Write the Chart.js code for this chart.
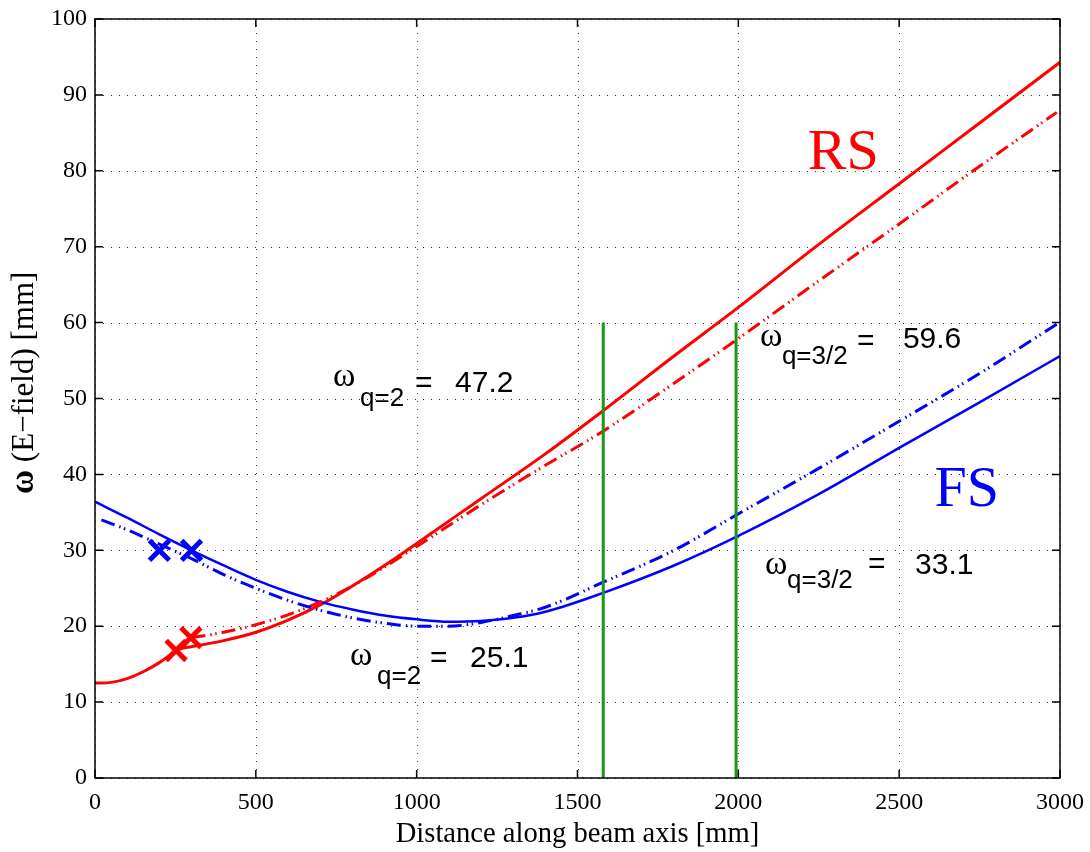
<!DOCTYPE html>
<html><head><meta charset="utf-8">
<script src="https://cdn.jsdelivr.net/npm/chart.js@4.4.1/dist/chart.umd.min.js"></script>
<style>html,body{margin:0;padding:0;background:#fff;overflow:hidden}</style>
</head><body>
<canvas id="c" width="1090" height="852" style="width:1090px;height:852px;display:block"></canvas>
<script>
// ---- data ----
const xTicks = [0, 500, 1000, 1500, 2000, 2500, 3000];
const yTicks = [0, 10, 20, 30, 40, 50, 60, 70, 80, 90, 100];

const rsSolidX = [0, 50, 100, 150, 200, 250, 270, 300, 400, 500, 600, 700, 800, 900, 1000, 1200, 1400, 1580, 1800, 2000, 2250, 2500, 2750, 3000];
const rsSolidY = [12.5, 12.6, 13.1, 14.0, 15.2, 16.7, 17.1, 17.3, 18.1, 19.2, 20.8, 22.8, 25.3, 28.0, 30.9, 36.8, 42.7, 48.4, 55.6, 62.0, 70.3, 78.3, 86.3, 94.3];

const rsDashX = [300, 400, 500, 600, 700, 800, 900, 1000, 1200, 1400, 1580, 1800, 2000, 2250, 2500, 2750, 2990];
const rsDashY = [18.5, 19.2, 20.2, 21.5, 23.2, 25.3, 27.8, 30.5, 36.0, 41.2, 45.7, 52.0, 57.9, 65.5, 73.0, 80.6, 87.7];

const fsSolidX = [0, 100, 200, 300, 400, 500, 600, 700, 800, 900, 1000, 1100, 1200, 1300, 1400, 1580, 1800, 2000, 2250, 2500, 2750, 3000];
const fsSolidY = [36.4, 34.3, 32.1, 30.0, 28.0, 26.1, 24.5, 23.2, 22.2, 21.4, 20.9, 20.6, 20.7, 21.1, 21.9, 24.4, 28.0, 31.9, 37.4, 43.5, 49.5, 55.6];

const fsDashX = [20, 100, 200, 300, 400, 500, 600, 700, 800, 900, 1000, 1100, 1200, 1300, 1400, 1580, 1800, 2000, 2250, 2500, 2750, 2990];
const fsDashY = [34.0, 32.7, 30.8, 28.9, 26.8, 25.0, 23.4, 22.1, 21.1, 20.4, 20.0, 20.0, 20.5, 21.4, 22.5, 25.8, 30.0, 34.8, 40.8, 47.0, 53.3, 59.8];

const fsMarkX = [200, 300];
const fsMarkY = [30, 30];
const rsMarkX = [252, 298];
const rsMarkY = [16.8, 18.5];

const greenX1 = [1580, 1580];
const greenX2 = [1993, 1993];
const greenY = [0, 60];

const labelNums = ['47.2', '25.1', '59.6', '33.1'];
const labelSubs = ['q=2', 'q=2', 'q=3/2', 'q=3/2'];
const labelPosX = [740, 793, 2067, 2083];
const labelPosY = [51.6, 14.85, 56.9, 26.9];

// ---- build ----
const pts = (xs, ys) => xs.map((x, i) => ({x, y: ys[i]}));
const RED = '#ff0000', BLUE = '#0000ff', GREEN = '#1a961a';
const DDOT = [14, 5, 1.5, 3.5, 1.5, 5];

const lineDs = (data, color, width, dash) => ({
  data, borderColor: color, backgroundColor: color, borderWidth: width,
  borderDash: dash || [], pointRadius: 0, showLine: true, fill: false,
  tension: 0.35, cubicInterpolationMode: 'monotone'
});
const markDs = (data, color) => ({
  data, borderColor: color, backgroundColor: color, pointStyle: 'crossRot',
  pointRadius: 14, pointBorderWidth: 5, showLine: false
});

// label layout (pixel offsets from anchor)
const labelLayout = [
  {subDx: 27, subDy: 20, eqDx: 82, eqDy: 6, numDx: 122, numDy: 6},
  {subDx: 27, subDy: 19, eqDx: 80, eqDy: 2, numDx: 120, numDy: 2},
  {subDx: 22, subDy: 18, eqDx: 97, eqDy: 4, numDx: 143, numDy: 2},
  {subDx: 22, subDy: 14, eqDx: 103, eqDy: -1, numDx: 150, numDy: 0}
];

const framePlugin = {
  id: 'frame',
  beforeDatasetsDraw(chart) {
    const {ctx, chartArea: a, scales: {x, y}} = chart;
    ctx.save();
    ctx.strokeStyle = '#333';
    ctx.lineWidth = 1;
    ctx.setLineDash([1, 7]);
    xTicks.forEach(v => {
      const px = Math.round(x.getPixelForValue(v)) + 0.5;
      ctx.beginPath(); ctx.moveTo(px, a.bottom); ctx.lineTo(px, a.top); ctx.stroke();
    });
    yTicks.forEach(v => {
      const py = Math.round(y.getPixelForValue(v)) + 0.5;
      ctx.beginPath(); ctx.moveTo(a.left, py); ctx.lineTo(a.right, py); ctx.stroke();
    });
    ctx.restore();
  },
  afterDatasetsDraw(chart) {
    const {ctx, chartArea: a, scales: {x, y}} = chart;
    ctx.save();
    ctx.strokeStyle = '#000';
    ctx.lineWidth = 1.5;
    ctx.setLineDash([]);
    ctx.strokeRect(a.left, a.top, a.right - a.left, a.bottom - a.top);
    const tl = 8;
    xTicks.forEach(v => {
      const px = x.getPixelForValue(v);
      ctx.beginPath(); ctx.moveTo(px, a.bottom); ctx.lineTo(px, a.bottom - tl);
      ctx.moveTo(px, a.top); ctx.lineTo(px, a.top + tl); ctx.stroke();
    });
    yTicks.forEach(v => {
      const py = y.getPixelForValue(v);
      ctx.beginPath(); ctx.moveTo(a.left, py); ctx.lineTo(a.left + tl, py);
      ctx.moveTo(a.right, py); ctx.lineTo(a.right - tl, py); ctx.stroke();
    });
    // annotations
    ctx.textBaseline = 'alphabetic';
    ctx.textAlign = 'left';
    labelNums.forEach((num, i) => {
      const L = labelLayout[i];
      const ax = x.getPixelForValue(labelPosX[i]);
      const ay = y.getPixelForValue(labelPosY[i]);
      ctx.fillStyle = '#000';
      ctx.font = '34px "Liberation Serif"';
      ctx.fillText('ω', ax, ay);
      ctx.font = '26px "Liberation Sans"';
      ctx.fillText(labelSubs[i], ax + L.subDx, ay + L.subDy);
      ctx.font = '30px "Liberation Sans"';
      ctx.fillText('=', ax + L.eqDx, ay + L.eqDy);
      ctx.fillText(num, ax + L.numDx, ay + L.numDy);
    });
    ctx.font = '58px "Liberation Serif"';
    ctx.fillStyle = RED;
    ctx.fillText('RS', x.getPixelForValue(2216), y.getPixelForValue(80.3));
    ctx.fillStyle = BLUE;
    ctx.fillText('FS', x.getPixelForValue(2610), y.getPixelForValue(35.9));
    ctx.restore();
  },
  afterDraw(chart) {
    // y-axis title (rotated), larger omega like the original
    const {ctx} = chart;
    ctx.save();
    ctx.translate(33, 494);
    ctx.rotate(-Math.PI / 2);
    ctx.fillStyle = '#000';
    ctx.textBaseline = 'alphabetic';
    ctx.textAlign = 'left';
    ctx.font = 'bold 33px "Liberation Serif"';
    ctx.fillText('ω', 0, 0);
    const w = ctx.measureText('ω').width;
    ctx.font = '31px "Liberation Serif"';
    ctx.fillText(' (E−field) [mm]', w, 0);
    ctx.restore();
  }
};

new Chart(document.getElementById('c'), {
  type: 'line',
  data: {
    datasets: [
      lineDs(pts(greenX1, greenY), GREEN, 3),
      lineDs(pts(greenX2, greenY), GREEN, 3),
      lineDs(pts(fsDashX, fsDashY), BLUE, 3, DDOT),
      lineDs(pts(rsDashX, rsDashY), RED, 3, DDOT),
      lineDs(pts(fsSolidX, fsSolidY), BLUE, 2.5),
      lineDs(pts(rsSolidX, rsSolidY), RED, 3),
      markDs(pts(fsMarkX, fsMarkY), BLUE),
      markDs(pts(rsMarkX, rsMarkY), RED)
    ]
  },
  options: {
    responsive: false,
    devicePixelRatio: 1,
    animation: false,
    layout: {padding: {top: 16, right: 30, left: 0, bottom: 0}},
    plugins: {legend: {display: false}, tooltip: {enabled: false}},
    scales: {
      x: {
        type: 'linear', min: 0, max: 3000,
        afterBuildTicks: s => { s.ticks = xTicks.map(v => ({value: v})); },
        afterFit: s => { s.height = 74; s.paddingLeft = 0; s.paddingRight = 0; },
        grid: {display: false, drawTicks: false},
        border: {display: false},
        ticks: {color: '#000', font: {family: 'Liberation Serif', size: 24}, padding: 10, maxRotation: 0, autoSkip: false,
                callback: v => String(v)},
        title: {display: true, text: 'Distance along beam axis [mm]', color: '#000',
                font: {family: 'Liberation Serif', size: 28.6}, padding: {top: 0, bottom: 0}}
      },
      y: {
        type: 'linear', min: 0, max: 100,
        afterBuildTicks: s => { s.ticks = yTicks.map(v => ({value: v})); },
        afterFit: s => { s.width = 95; s.paddingTop = 0; s.paddingBottom = 0; },
        grid: {display: false, drawTicks: false},
        border: {display: false},
        ticks: {color: '#000', font: {family: 'Liberation Serif', size: 24}, padding: 8, autoSkip: false,
                callback: v => String(v)},
        title: {display: false}
      }
    }
  },
  plugins: [framePlugin]
});
</script>
</body></html>
